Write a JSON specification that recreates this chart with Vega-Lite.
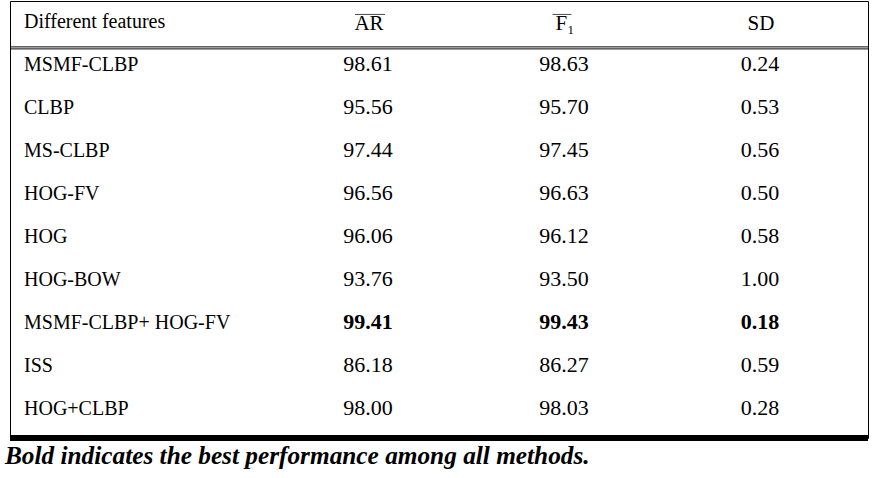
{
  "$schema": "https://vega.github.io/schema/vega-lite/v6.json",
  "width": 858,
  "height": 437,
  "autosize": {"type": "none"},
  "padding": {"left": 10, "top": 1, "right": 13, "bottom": 40},
  "background": "white",
  "title": {
    "text": "Bold indicates the best performance among all methods.",
    "orient": "bottom",
    "anchor": "start",
    "font": "Liberation Serif",
    "fontSize": 25.3,
    "fontStyle": "italic",
    "fontWeight": "bold",
    "color": "black",
    "offset": 3,
    "dx": -2
  },
  "datasets": {
    "rows": [
      {"feature": "MSMF-CLBP", "AR": 98.61, "F1": 98.63, "SD": 0.24, "best": false},
      {"feature": "CLBP", "AR": 95.56, "F1": 95.70, "SD": 0.53, "best": false},
      {"feature": "MS-CLBP", "AR": 97.44, "F1": 97.45, "SD": 0.56, "best": false},
      {"feature": "HOG-FV", "AR": 96.56, "F1": 96.63, "SD": 0.50, "best": false},
      {"feature": "HOG", "AR": 96.06, "F1": 96.12, "SD": 0.58, "best": false},
      {"feature": "HOG-BOW", "AR": 93.76, "F1": 93.50, "SD": 1.00, "best": false},
      {"feature": "MSMF-CLBP+ HOG-FV", "AR": 99.41, "F1": 99.43, "SD": 0.18, "best": true},
      {"feature": "ISS", "AR": 86.18, "F1": 86.27, "SD": 0.59, "best": false},
      {"feature": "HOG+CLBP", "AR": 98.00, "F1": 98.03, "SD": 0.28, "best": false}
    ],
    "header": [
      {"key": "AR", "label": "AR", "row": "Different features"},
      {"key": "F1", "label": "F₁", "row": "Different features"},
      {"key": "SD", "label": "SD", "row": "Different features"}
    ]
  },
  "layer": [
    {
      "data": {"name": "rows"},
      "transform": [{"filter": "!datum.best"}, {"fold": ["AR", "F1", "SD"], "as": ["key", "value"]}],
      "mark": {"type": "text", "align": "center", "baseline": "middle", "font": "Liberation Serif", "fontSize": 22, "fontWeight": "normal", "color": "black", "dy": -1},
      "encoding": {
        "x": {
          "field": "key",
          "type": "nominal",
          "axis": null,
          "scale": {"type": "point", "domain": ["feature", "AR", "F1", "SD"], "range": [162, 750], "padding": 0}
        },
        "y": {
          "field": "feature",
          "type": "nominal",
          "axis": null,
          "scale": {
            "type": "band",
            "domain": ["Different features", "MSMF-CLBP", "CLBP", "MS-CLBP", "HOG-FV", "HOG", "HOG-BOW", "MSMF-CLBP+ HOG-FV", "ISS", "HOG+CLBP"],
            "range": [0, 429],
            "paddingInner": 0,
            "paddingOuter": 0
          }
        },
        "text": {"field": "value", "type": "quantitative", "format": ".2f"}
      }
    },
    {
      "data": {"name": "rows"},
      "transform": [{"filter": "datum.best"}, {"fold": ["AR", "F1", "SD"], "as": ["key", "value"]}],
      "mark": {"type": "text", "align": "center", "baseline": "middle", "font": "Liberation Serif", "fontSize": 22, "fontWeight": "bold", "color": "black", "dy": -1},
      "encoding": {
        "x": {"field": "key", "type": "nominal"},
        "y": {"field": "feature", "type": "nominal"},
        "text": {"field": "value", "type": "quantitative", "format": ".2f"}
      }
    },
    {
      "data": {"name": "rows"},
      "mark": {"type": "text", "align": "left", "baseline": "middle", "font": "Liberation Serif", "fontSize": 20, "color": "black", "dx": -148},
      "encoding": {
        "x": {"datum": "feature", "type": "nominal"},
        "y": {"field": "feature", "type": "nominal"},
        "text": {"field": "feature"}
      }
    },
    {
      "data": {"values": [{"h": "Different features", "k": "feature"}]},
      "mark": {"type": "text", "align": "left", "baseline": "middle", "font": "Liberation Serif", "fontSize": 20, "color": "black", "dx": -148},
      "encoding": {
        "x": {"field": "k", "type": "nominal"},
        "y": {"field": "h", "type": "nominal"},
        "text": {"field": "h"}
      }
    },
    {
      "data": {"name": "header"},
      "mark": {"type": "text", "align": "center", "baseline": "middle", "font": "Liberation Serif", "fontSize": 21, "color": "black", "dx": 1, "dy": 2},
      "encoding": {
        "x": {"field": "key", "type": "nominal"},
        "y": {"field": "row", "type": "nominal"},
        "text": {"field": "label"}
      }
    },
    {
      "data": {"name": "header"},
      "transform": [{"filter": "datum.key === 'AR'"}],
      "mark": {"type": "tick", "orient": "horizontal", "color": "black", "thickness": 1, "size": 30, "xOffset": 2, "yOffset": -8},
      "encoding": {
        "x": {"field": "key", "type": "nominal"},
        "y": {"field": "row", "type": "nominal"}
      }
    },
    {
      "data": {"name": "header"},
      "transform": [{"filter": "datum.key === 'F1'"}],
      "mark": {"type": "tick", "orient": "horizontal", "color": "black", "thickness": 1, "size": 19, "xOffset": -2, "yOffset": -8},
      "encoding": {
        "x": {"field": "key", "type": "nominal"},
        "y": {"field": "row", "type": "nominal"}
      }
    },
    {
      "data": {"values": [{"h": "Different features"}]},
      "mark": {"type": "rule", "color": "black", "strokeWidth": 1, "yOffset": 3},
      "encoding": {
        "y": {"field": "h", "type": "nominal", "bandPosition": 1}
      }
    },
    {
      "data": {"values": [{"h": "Different features"}]},
      "mark": {"type": "rule", "color": "black", "strokeWidth": 1, "yOffset": 5},
      "encoding": {
        "y": {"field": "h", "type": "nominal", "bandPosition": 1}
      }
    },
    {
      "data": {"values": [{"h": "HOG+CLBP"}]},
      "mark": {"type": "rule", "color": "black", "strokeWidth": 6, "yOffset": 8},
      "encoding": {
        "y": {"field": "h", "type": "nominal", "bandPosition": 1}
      }
    }
  ],
  "config": {
    "view": {"stroke": "black", "strokeWidth": 1}
  }
}
